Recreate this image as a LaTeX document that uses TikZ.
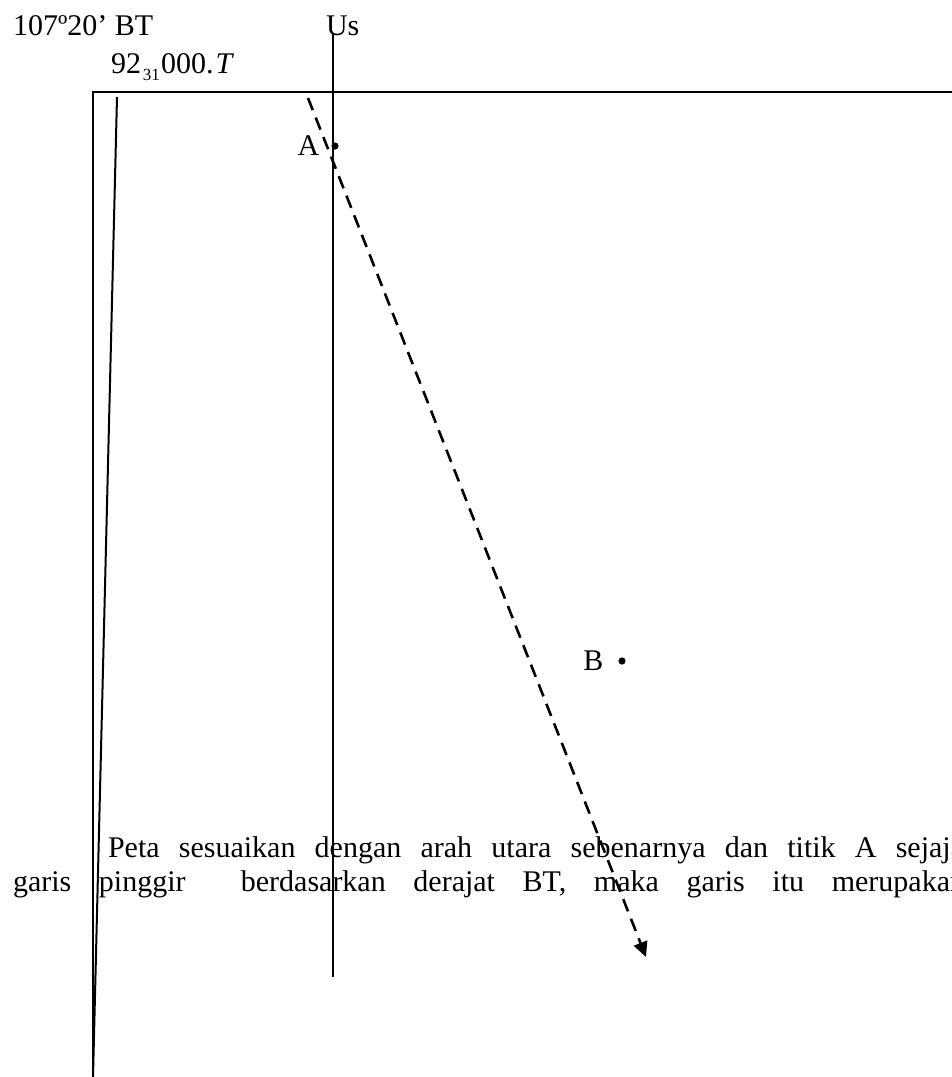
\documentclass[tikz,border=0pt]{standalone}
\usepackage{fontspec}
\setmainfont{Liberation Serif}
\usetikzlibrary{arrows.meta,positioning}

\begin{document}
\begin{tikzpicture}[x=0.5pt,y=-0.5pt,font=\fontsize{15}{17}\selectfont,
    line width=1pt,
    t/.style={inner sep=0pt,anchor=base west},
    dot/.style={circle,fill,inner sep=0pt,minimum size=3.6pt},
    a/.style={line width=1.3pt,dash pattern=on 6.5pt off 4pt,
      -{Triangle[length=7.5pt,width=7pt]}}]
  \useasboundingbox (0,0) rectangle (952,1077);
  \clip (0,0) rectangle (952,1077);
  % map frame and the slanted margin line
  \coordinate (tl) at (93,92);
  \coordinate (tr) at (960,92);
  \coordinate (bl) at (93,1077);
  \draw (tr) -- (tl) -- (bl);
  \coordinate (mt) at (117,97);
  \draw (mt) -- (bl);
  % labels above the frame
  \node[t] (bt) at (12,35) {107º20’ BT};
  \node[t] (us) at (325,35) {Us};
  \node[t] (grid) at (110,73)
    {92\kern1pt\raisebox{-3.5pt}{\fontsize{8.5}{9}\selectfont 31}\kern0.5pt 000.\kern1pt\textit{T}};
  % north line
  \coordinate (ut) at (333,33);
  \coordinate (ub) at (333,977);
  \draw (ut) -- (ub);
  % points A and B
  \node[dot] (A) at (335,146) {};
  \node[inner sep=0pt,left=5pt of A] (Alab) {A};
  \node[dot] (B) at (622,661) {};
  \node[inner sep=0pt,left=6.5pt of B] (Blab) {B};
  % bearing from A
  \coordinate (d0) at (308,98);
  \coordinate (d1) at (646,957);
  \draw[a] (d0) -- (d1);
  % text running across the picture
  \node[t] (l1) at (107,857)
    {\makebox[433pt][s]{Peta sesuaikan dengan arah utara sebenarnya dan titik A sejajar}};
  \node[t] (l2) at (12,891)
    {\makebox[476pt][s]{garis pinggir\ \ berdasarkan derajat BT, maka garis itu merupakan}};
\end{tikzpicture}
\end{document}
